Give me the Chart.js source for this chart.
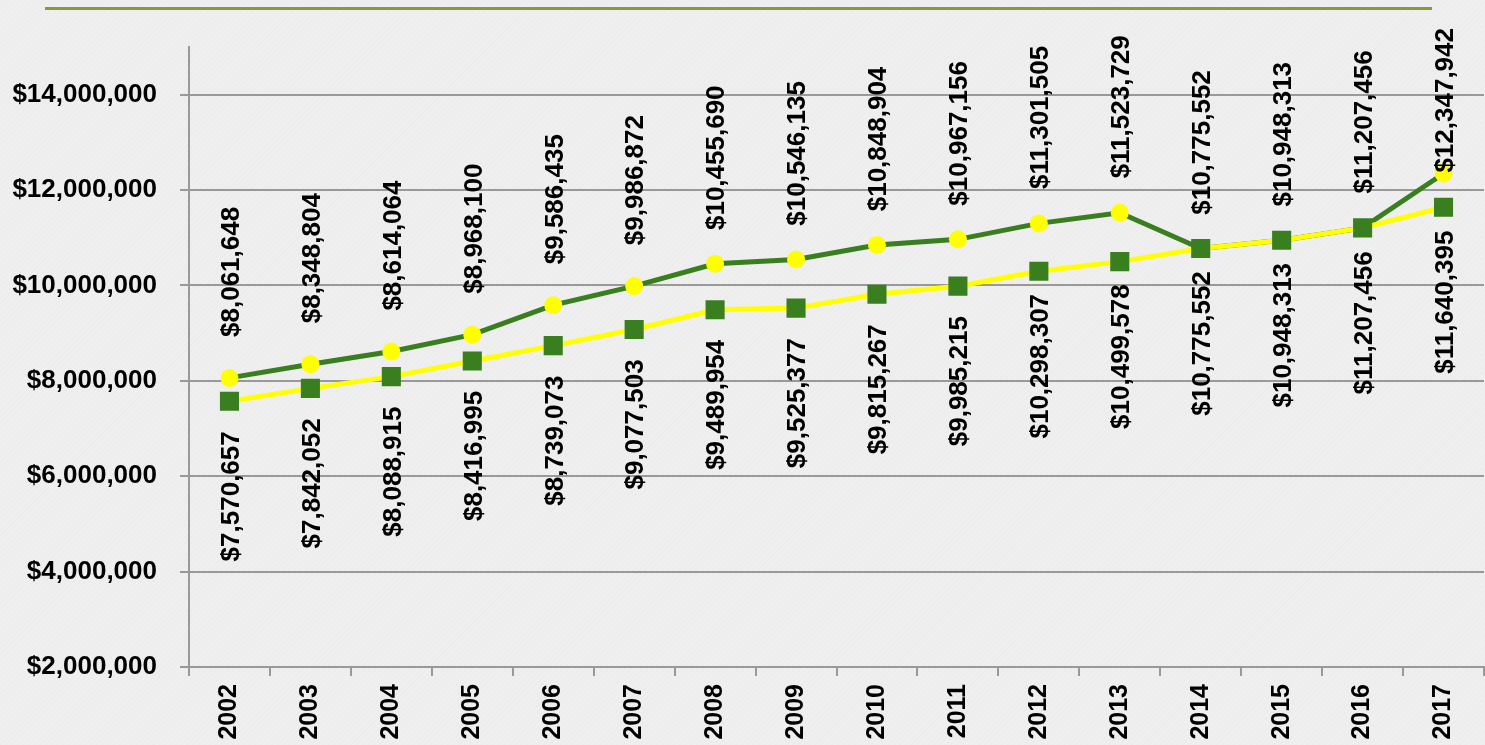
<!DOCTYPE html>
<html>
<head>
<meta charset="utf-8">
<script src="https://cdn.jsdelivr.net/npm/chart.js@4"></script>
<style>
  html, body { margin: 0; padding: 0; background: #eeeeee; }
  body { width: 1485px; height: 745px; position: relative; overflow: hidden;
    background: repeating-linear-gradient(135deg, #efefef 0px, #efefef 2px, #ebebeb 3px, #efefef 4px); }
  #topline { position: absolute; left: 45px; top: 7px; width: 1387px; height: 3px; background: #8a9a2e; }
  canvas { position: absolute; left: 0; top: 0; }
</style>
</head>
<body>
<div id="topline"></div>
<canvas id="c" width="1485" height="745"></canvas>
<script>
const years = ['2002','2003','2004','2005','2006','2007','2008','2009','2010','2011','2012','2013','2014','2015','2016','2017'];
const upperSeries = [8061648, 8348804, 8614064, 8968100, 9586435, 9986872, 10455690, 10546135, 10848904, 10967156, 11301505, 11523729, 10775552, 10948313, 11207456, 12347942];
const lowerSeries = [7570657, 7842052, 8088915, 8416995, 8739073, 9077503, 9489954, 9525377, 9815267, 9985215, 10298307, 10499578, 10775552, 10948313, 11207456, 11640395];
const yTicks = [2000000, 4000000, 6000000, 8000000, 10000000, 12000000, 14000000];
const yMin = 2000000;
const yMax = 15000000;

const GREEN = '#3a7f1f';
const YELLOW = '#ffff00';
const FONT = 'bold 26px "Liberation Sans", Arial, sans-serif';

function money(v) { return '$' + Math.round(v).toLocaleString('en-US'); }

const labelPlugin = {
  id: 'vlabels',
  afterDatasetsDraw(chart) {
    const ctx = chart.ctx;
    ctx.save();
    ctx.font = FONT;
    ctx.fillStyle = '#000';
    ctx.textAlign = 'center';
    ctx.textBaseline = 'alphabetic';
    const capH = 0.716 * 26;
    chart.data.datasets.forEach((ds, di) => {
      const meta = chart.getDatasetMeta(di);
      meta.data.forEach((pt, i) => {
        const txt = money(ds.data[i]);
        const w = ctx.measureText(txt).width;
        let cy;
        if (ds.labelPos === 'above') {
          cy = pt.y - 106;
          const minTop = chart.chartArea.top - 19;
          if (cy - w / 2 < minTop) cy = minTop + w / 2;
        } else {
          cy = pt.y + 95;
        }
        ctx.save();
        ctx.translate(pt.x, cy);
        ctx.rotate(-Math.PI / 2);
        ctx.fillText(txt, 0, capH / 2);
        ctx.restore();
      });
    });
    ctx.restore();
  }
};

new Chart(document.getElementById('c'), {
  type: 'line',
  data: {
    labels: years,
    datasets: [
      {
        label: 'Upper',
        data: upperSeries,
        labelPos: 'above',
        order: 2,
        borderColor: GREEN,
        borderWidth: 5,
        pointStyle: 'circle',
        pointRadius: 9,
        pointBorderWidth: 0,
        pointBackgroundColor: YELLOW,
        pointBorderColor: YELLOW,
        tension: 0,
        fill: false
      },
      {
        label: 'Lower',
        data: lowerSeries,
        labelPos: 'below',
        order: 1,
        borderColor: YELLOW,
        borderWidth: 5,
        pointStyle: 'rect',
        pointRadius: 13.5,
        pointBorderWidth: 0,
        pointBackgroundColor: GREEN,
        pointBorderColor: GREEN,
        tension: 0,
        fill: false
      }
    ]
  },
  options: {
    responsive: false,
    animation: false,
    layout: { autoPadding: false, padding: { top: 47, right: 1, left: 0, bottom: 0 } },
    plugins: { legend: { display: false }, tooltip: { enabled: false } },
    scales: {
      x: {
        offset: true,
        afterFit(s) { s.height = 78; s.paddingLeft = 0; s.paddingRight = 0; },
        grid: { offset: true, drawOnChartArea: false, drawTicks: true, tickLength: 9, color: '#999999', lineWidth: 2 },
        border: { display: true, color: '#999999', width: 2 },
        ticks: {
          color: '#000', font: { family: '"Liberation Sans", Arial, sans-serif', size: 25, weight: 'bold' },
          minRotation: 90, maxRotation: 90, autoSkip: false, padding: 8
        }
      },
      y: {
        min: yMin, max: yMax,
        afterFit(s) { s.width = 189; s.paddingTop = 0; s.paddingBottom = 0; },
        afterBuildTicks(s) { s.ticks = yTicks.map(v => ({ value: v })); },
        grid: { drawOnChartArea: true, drawTicks: true, tickLength: 9, color: '#999999', lineWidth: 2 },
        border: { display: true, color: '#999999', width: 2 },
        ticks: {
          padding: 23,
          color: '#000', font: { family: '"Liberation Sans", Arial, sans-serif', size: 26, weight: 'bold' },
          callback: (v) => money(v)
        }
      }
    }
  },
  plugins: [labelPlugin]
});
</script>
</body>
</html>
